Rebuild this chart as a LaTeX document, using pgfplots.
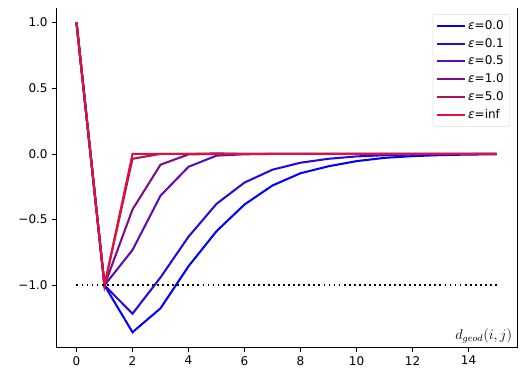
\documentclass[border=0pt]{standalone}
\usepackage{pgfplots}
\pgfplotsset{compat=1.18}
\usepackage{fontspec}
\setmainfont{DejaVu Sans}

\definecolor{epsA}{RGB}{0,0,255}
\definecolor{epsB}{RGB}{45,5,222}
\definecolor{epsC}{RGB}{95,10,185}
\definecolor{epsD}{RGB}{128,10,140}
\definecolor{epsE}{RGB}{180,15,95}
\definecolor{epsF}{RGB}{220,20,60}

\begin{document}
\begin{tikzpicture}
\begin{axis}[
    scale only axis,
    width=384pt, height=283pt,
    xmin=-0.73, xmax=15.73,
    ymin=-1.475, ymax=1.11,
    axis x line*=bottom,
    axis y line*=left,
    xtick={0,2,...,14},
    ytick={-1,-0.5,0,0.5,1},
    yticklabels={−1.0,−0.5,0.0,0.5,1.0},
    /pgf/number format/assume math mode=true,
    tick align=outside,
    major tick length=3.5pt,
    tick style={black, line width=0.6pt},
    axis line style={line width=0.8pt},
    ticklabel style={font=\fontsize{10}{12}\selectfont},
    clip=false,
    legend cell align=left,
    legend style={at={(rel axis cs:0.985,0.982)}, anchor=north east,
        draw=black!15, rounded corners=2pt, font=\fontsize{10}{12}\selectfont,
        row sep=1.9pt, inner sep=3pt},
    legend image code/.code={\draw[#1] (0cm,0cm) -- (0.8cm,0cm);},
    eps/.style={line width=1.7pt, mark=none},
]
\addplot[eps, color=epsA] coordinates {(0,1) (1,-1) (2,-1.357) (3,-1.175) (4,-0.855) (5,-0.588) (6,-0.385) (7,-0.240) (8,-0.147) (9,-0.094) (10,-0.055) (11,-0.030) (12,-0.017) (13,-0.009) (14,-0.005) (15,-0.003)};
\addlegendentry{{\itshape ε}=0.0}
\addplot[eps, color=epsB] coordinates {(0,1) (1,-1) (2,-1.216) (3,-0.94) (4,-0.63) (5,-0.38) (6,-0.218) (7,-0.12) (8,-0.067) (9,-0.037) (10,-0.019) (11,-0.010) (12,-0.005) (13,-0.003) (14,-0.001) (15,0)};
\addlegendentry{{\itshape ε}=0.1}
\addplot[eps, color=epsC] coordinates {(0,1) (1,-1) (2,-0.731) (3,-0.318) (4,-0.098) (5,-0.013) (6,-0.003) (7,0) (8,0) (9,0) (10,0) (11,0) (12,0) (13,0) (14,0) (15,0)};
\addlegendentry{{\itshape ε}=0.5}
\addplot[eps, color=epsD] coordinates {(0,1) (1,-1) (2,-0.423) (3,-0.082) (4,-0.004) (5,0) (6,0) (7,0) (8,0) (9,0) (10,0) (11,0) (12,0) (13,0) (14,0) (15,0)};
\addlegendentry{{\itshape ε}=1.0}
\addplot[eps, color=epsE] coordinates {(0,1) (1,-1) (2,-0.037) (3,0) (4,0) (5,0.004) (6,0) (7,0) (8,0) (9,0) (10,0) (11,0) (12,0) (13,0) (14,0) (15,0)};
\addlegendentry{{\itshape ε}=5.0}
\addplot[eps, color=epsF] coordinates {(0,1) (1,-1) (2,0) (3,0) (4,0) (5,0) (6,0) (7,0) (8,0) (9,0) (10,0) (11,0) (12,0) (13,0) (14,0) (15,0)};
\addlegendentry{{\itshape ε}=inf}
\addplot[black, line width=1.5pt, dash pattern=on 1.5pt off 2.7pt, forget plot] coordinates {(0,-1) (15,-1)};
% right spine, no top spine
\draw[line width=0.8pt] (rel axis cs:1,0) -- (rel axis cs:1,1);
\node[anchor=south east, inner sep=2pt, font=\fontsize{12}{14}\selectfont] at (rel axis cs:0.995,0.005) {$d_{geod}(i,j)$};
\coordinate (ll) at (rel axis cs:0,0);
\coordinate (ur) at (rel axis cs:1,1);
\end{axis}
\pgfresetboundingbox
\path[use as bounding box] ([shift={(-46.7pt,-23.3pt)}]ll) rectangle ([shift={(12.5pt,6.7pt)}]ur);
\end{tikzpicture}
\end{document}
